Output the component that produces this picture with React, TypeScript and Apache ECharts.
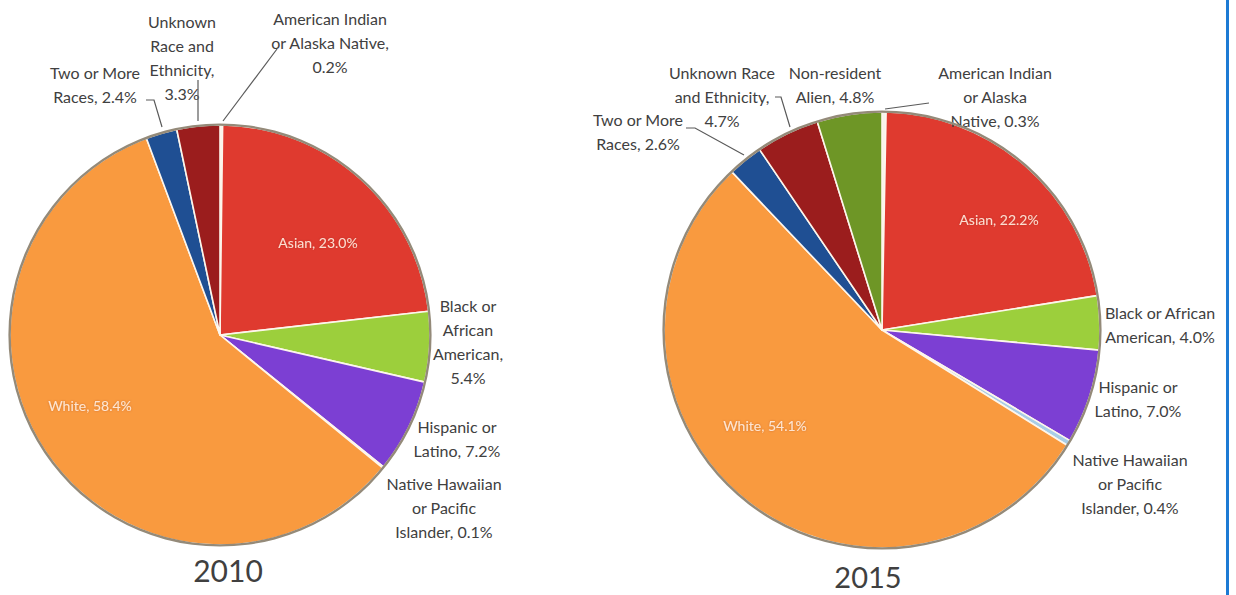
import React, { useEffect, useRef } from "react";
import * as echarts from "echarts";

// ---- data ----
const categories2010 = [
  "American Indian or Alaska Native",
  "Asian",
  "Black or African American",
  "Hispanic or Latino",
  "Native Hawaiian or Pacific Islander",
  "White",
  "Two or More Races",
  "Unknown Race and Ethnicity",
];
const values2010 = [0.2, 23.0, 5.4, 7.2, 0.1, 58.4, 2.4, 3.3];
const labelTemplates2010 = [
  "American Indian\nor Alaska Native,\n{v}",
  "Asian, {v}",
  "Black or\nAfrican\nAmerican,\n{v}",
  "Hispanic or\nLatino, {v}",
  "Native Hawaiian\nor Pacific\nIslander, {v}",
  "White, {v}",
  "Two or More\nRaces, {v}",
  "Unknown\nRace and\nEthnicity,\n{v}",
];

const categories2015 = [
  "American Indian or Alaska Native",
  "Asian",
  "Black or African American",
  "Hispanic or Latino",
  "Native Hawaiian or Pacific Islander",
  "White",
  "Two or More Races",
  "Unknown Race and Ethnicity",
  "Non-resident Alien",
];
const values2015 = [0.3, 22.2, 4.0, 7.0, 0.4, 54.1, 2.6, 4.7, 4.8];
const labelTemplates2015 = [
  "American Indian\nor Alaska\nNative, {v}",
  "Asian, {v}",
  "Black or African\nAmerican, {v}",
  "Hispanic or\nLatino, {v}",
  "Native Hawaiian\nor Pacific\nIslander, {v}",
  "White, {v}",
  "Two or More\nRaces, {v}",
  "Unknown Race\nand Ethnicity,\n{v}",
  "Non-resident\nAlien, {v}",
];

const years = ["2010", "2015"];

// ---- styles / layout ----
const colorMap: Record<string, string> = {
  "American Indian or Alaska Native": "#f7f3ec",
  Asian: "#df3a2f",
  "Black or African American": "#9ccf3c",
  "Hispanic or Latino": "#7c3fd3",
  "Native Hawaiian or Pacific Islander": "#a8cde6",
  White: "#f99a3f",
  "Two or More Races": "#1f4f93",
  "Unknown Race and Ethnicity": "#9b1d1d",
  "Non-resident Alien": "#6e9626",
};
const insideNames = ["Asian", "White"];

const labelPos2010: [number, number][] = [
  [330, 42],
  [318, 242],
  [468, 341],
  [457, 438],
  [444, 507],
  [90, 405],
  [95, 84],
  [182, 57],
];
const labelPos2015: [number, number][] = [
  [995, 96],
  [999, 219],
  [1160, 324],
  [1138, 398],
  [1130, 483],
  [765, 425],
  [638, 131],
  [722, 96],
  [835, 84],
];

const leaderLines: [number, number][][] = [
  [
    [223, 121],
    [277, 49],
  ],
  [
    [198, 121],
    [198, 80],
  ],
  [
    [162, 127],
    [154, 100],
    [146, 100],
  ],
  [
    [744, 155],
    [695, 128],
    [686, 128],
  ],
  [
    [790, 127],
    [781, 97],
    [775, 97],
  ],
  [
    [885, 109],
    [929, 103],
  ],
];

function buildData(cats: string[], vals: number[], tpl: string[]) {
  return cats.map((name, i) => {
    const inside = insideNames.includes(name);
    return {
      name,
      value: vals[i],
      itemStyle: { color: colorMap[name] },
      label: {
        formatter: tpl[i].replace("{v}", vals[i].toFixed(1) + "%"),
        color: inside ? "rgba(255,236,222,0.92)" : "#404040",
        fontSize: inside ? 14 : 16,
        lineHeight: inside ? 18 : 24,
        textShadowColor: inside ? "rgba(120,40,0,0.35)" : "transparent",
        textShadowBlur: inside ? 2 : 0,
      },
    };
  });
}

function pieSeries(
  cats: string[],
  vals: number[],
  tpl: string[],
  center: [number, number],
  r: number,
  pos: [number, number][]
) {
  return [
    {
      type: "pie",
      center,
      radius: r,
      startAngle: 90,
      clockwise: true,
      avoidLabelOverlap: false,
      itemStyle: { borderColor: "#fdf6ec", borderWidth: 1.6 },
      label: {
        show: true,
        position: "inside",
        fontFamily: "Lato",
        align: "center",
      },
      labelLine: { show: false },
      labelLayout: (p: any) => {
        const q = pos[p.dataIndex];
        return { x: q[0], y: q[1], align: "center", verticalAlign: "middle" };
      },
      emphasis: { disabled: true },
      data: buildData(cats, vals, tpl),
      z: 2,
    },
    {
      type: "pie",
      center,
      radius: [r - 0.8, r + 1.6],
      silent: true,
      label: { show: false },
      labelLine: { show: false },
      itemStyle: { color: "#948a79", borderWidth: 0 },
      emphasis: { disabled: true },
      data: [{ value: 1, name: "outline" }],
      z: 3,
    },
  ];
}

export default function App() {
  const ref = useRef<HTMLDivElement>(null);
  useEffect(() => {
    document.body.style.margin = "0";
    document.body.style.overflow = "hidden";
    if (!ref.current) return;
    const chart = echarts.init(ref.current, undefined, { renderer: "svg" });
    chart.setOption({
      animation: false,
      backgroundColor: "#ffffff",
      tooltip: { show: false },
      series: [
        ...pieSeries(categories2010, values2010, labelTemplates2010, [220, 335], 210, labelPos2010),
        ...pieSeries(categories2015, values2015, labelTemplates2015, [882, 330], 218, labelPos2015),
      ],
      graphic: [
        ...leaderLines.map((pts) => ({
          type: "polyline",
          shape: { points: pts },
          style: { stroke: "#5a5a5a", lineWidth: 1.2, fill: null },
          z: 10,
        })),
        {
          type: "text",
          x: 228,
          y: 570,
          style: {
            text: years[0],
            fontFamily: "Lato",
            fontSize: 30,
            fill: "#404040",
            textAlign: "center",
            textVerticalAlign: "middle",
          },
        },
        {
          type: "text",
          x: 868,
          y: 576,
          style: {
            text: years[1],
            fontFamily: "Lato",
            fontSize: 29,
            fill: "#404040",
            textAlign: "center",
            textVerticalAlign: "middle",
          },
        },
        {
          type: "rect",
          shape: { x: 1226, y: 0, width: 3, height: 595 },
          style: { fill: "#1c7ad4" },
        },
      ],
    });
    return () => chart.dispose();
  }, []);
  return (
    <div
      ref={ref}
      style={{ position: "absolute", left: 0, top: 0, width: 1236, height: 595, background: "#fff" }}
    />
  );
}
